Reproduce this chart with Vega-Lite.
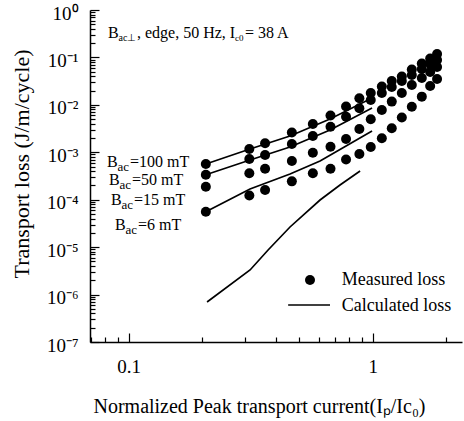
{
  "$schema": "https://vega.github.io/schema/vega-lite/v6.json",
  "width": 372,
  "height": 332,
  "autosize": "none",
  "padding": {"left": 90, "top": 10, "right": 2, "bottom": 79},
  "background": "white",
  "config": {
    "view": {"stroke": null},
    "font": "Liberation Serif",
    "axis": {
      "grid": false,
      "domainColor": "black",
      "domainWidth": 1.5,
      "tickColor": "black",
      "tickWidth": 1.2,
      "labelColor": "black",
      "titleColor": "black",
      "titleFontWeight": "normal",
      "labelFont": "Liberation Serif",
      "titleFont": "Liberation Serif",
      "labelOverlap": false,
      "labelFlush": false
    }
  },
  "datasets": {
    "measured": [
      {"I": 0.207, "loss": 5.66e-4, "B": "100 mT"},
      {"I": 0.312, "loss": 1.17e-3, "B": "100 mT"},
      {"I": 0.362, "loss": 1.55e-3, "B": "100 mT"},
      {"I": 0.466, "loss": 2.61e-3, "B": "100 mT"},
      {"I": 0.568, "loss": 3.95e-3, "B": "100 mT"},
      {"I": 0.671, "loss": 5.97e-3, "B": "100 mT"},
      {"I": 0.777, "loss": 9.23e-3, "B": "100 mT"},
      {"I": 0.881, "loss": 1.375e-2, "B": "100 mT"},
      {"I": 0.981, "loss": 1.78e-2, "B": "100 mT"},
      {"I": 1.089, "loss": 2.44e-2, "B": "100 mT"},
      {"I": 1.196, "loss": 3.18e-2, "B": "100 mT"},
      {"I": 1.315, "loss": 3.96e-2, "B": "100 mT"},
      {"I": 1.445, "loss": 5.57e-2, "B": "100 mT"},
      {"I": 1.588, "loss": 7.45e-2, "B": "100 mT"},
      {"I": 1.718, "loss": 9.49e-2, "B": "100 mT"},
      {"I": 1.834, "loss": 0.118, "B": "100 mT"},
      {"I": 0.207, "loss": 3.37e-4, "B": "50 mT"},
      {"I": 0.312, "loss": 7.22e-4, "B": "50 mT"},
      {"I": 0.362, "loss": 8.77e-4, "B": "50 mT"},
      {"I": 0.466, "loss": 1.50e-3, "B": "50 mT"},
      {"I": 0.568, "loss": 2.20e-3, "B": "50 mT"},
      {"I": 0.671, "loss": 3.46e-3, "B": "50 mT"},
      {"I": 0.777, "loss": 5.63e-3, "B": "50 mT"},
      {"I": 0.881, "loss": 8.46e-3, "B": "50 mT"},
      {"I": 0.981, "loss": 1.27e-2, "B": "50 mT"},
      {"I": 1.089, "loss": 1.78e-2, "B": "50 mT"},
      {"I": 1.196, "loss": 2.38e-2, "B": "50 mT"},
      {"I": 1.315, "loss": 3.18e-2, "B": "50 mT"},
      {"I": 1.445, "loss": 4.26e-2, "B": "50 mT"},
      {"I": 1.588, "loss": 5.70e-2, "B": "50 mT"},
      {"I": 1.718, "loss": 7.27e-2, "B": "50 mT"},
      {"I": 1.834, "loss": 8.83e-2, "B": "50 mT"},
      {"I": 0.207, "loss": 1.88e-4, "B": "15 mT"},
      {"I": 0.312, "loss": 3.61e-4, "B": "15 mT"},
      {"I": 0.362, "loss": 4.51e-4, "B": "15 mT"},
      {"I": 0.466, "loss": 6.55e-4, "B": "15 mT"},
      {"I": 0.568, "loss": 9.80e-4, "B": "15 mT"},
      {"I": 0.671, "loss": 1.31e-3, "B": "15 mT"},
      {"I": 0.777, "loss": 1.91e-3, "B": "15 mT"},
      {"I": 0.881, "loss": 3.10e-3, "B": "15 mT"},
      {"I": 0.981, "loss": 4.96e-3, "B": "15 mT"},
      {"I": 1.089, "loss": 7.79e-3, "B": "15 mT"},
      {"I": 1.196, "loss": 1.17e-2, "B": "15 mT"},
      {"I": 1.315, "loss": 1.78e-2, "B": "15 mT"},
      {"I": 1.445, "loss": 2.62e-2, "B": "15 mT"},
      {"I": 1.588, "loss": 3.68e-2, "B": "15 mT"},
      {"I": 1.718, "loss": 4.93e-2, "B": "15 mT"},
      {"I": 1.834, "loss": 6.28e-2, "B": "15 mT"},
      {"I": 0.207, "loss": 5.59e-5, "B": "6 mT"},
      {"I": 0.312, "loss": 1.23e-4, "B": "6 mT"},
      {"I": 0.362, "loss": 1.60e-4, "B": "6 mT"},
      {"I": 0.466, "loss": 2.44e-4, "B": "6 mT"},
      {"I": 0.568, "loss": 3.61e-4, "B": "6 mT"},
      {"I": 0.671, "loss": 4.51e-4, "B": "6 mT"},
      {"I": 0.777, "loss": 7.05e-4, "B": "6 mT"},
      {"I": 0.881, "loss": 9.20e-4, "B": "6 mT"},
      {"I": 0.981, "loss": 1.29e-3, "B": "6 mT"},
      {"I": 1.089, "loss": 1.97e-3, "B": "6 mT"},
      {"I": 1.196, "loss": 3.21e-3, "B": "6 mT"},
      {"I": 1.315, "loss": 5.42e-3, "B": "6 mT"},
      {"I": 1.445, "loss": 9.15e-3, "B": "6 mT"},
      {"I": 1.588, "loss": 1.49e-2, "B": "6 mT"},
      {"I": 1.718, "loss": 2.50e-2, "B": "6 mT"},
      {"I": 1.834, "loss": 3.51e-2, "B": "6 mT"}
    ],
    "calc": [
      {"I": 0.207, "loss": 5.66e-4, "curve": "100 mT"},
      {"I": 0.314, "loss": 1.17e-3, "curve": "100 mT"},
      {"I": 0.458, "loss": 2.20e-3, "curve": "100 mT"},
      {"I": 0.668, "loss": 5.04e-3, "curve": "100 mT"},
      {"I": 0.993, "loss": 1.39e-2, "curve": "100 mT"},
      {"I": 0.207, "loss": 3.37e-4, "curve": "50 mT"},
      {"I": 0.314, "loss": 6.88e-4, "curve": "50 mT"},
      {"I": 0.458, "loss": 1.29e-3, "curve": "50 mT"},
      {"I": 0.668, "loss": 2.95e-3, "curve": "50 mT"},
      {"I": 0.993, "loss": 8.59e-3, "curve": "50 mT"},
      {"I": 0.207, "loss": 5.59e-5, "curve": "6 mT"},
      {"I": 0.314, "loss": 1.68e-4, "curve": "6 mT"},
      {"I": 0.458, "loss": 3.48e-4, "curve": "6 mT"},
      {"I": 0.608, "loss": 6.55e-4, "curve": "6 mT"},
      {"I": 0.777, "loss": 1.36e-3, "curve": "6 mT"},
      {"I": 0.993, "loss": 2.81e-3, "curve": "6 mT"},
      {"I": 0.2094, "loss": 6.98e-7, "curve": "low"},
      {"I": 0.3142, "loss": 3.30e-6, "curve": "low"},
      {"I": 0.3724, "loss": 8.71e-6, "curve": "low"},
      {"I": 0.458, "loss": 2.66e-5, "curve": "low"},
      {"I": 0.608, "loss": 9.86e-5, "curve": "low"},
      {"I": 0.734, "loss": 2.04e-4, "curve": "low"},
      {"I": 0.887, "loss": 4.03e-4, "curve": "low"}
    ],
    "ann": [
      {"I": 0.0822, "loss": 0.323, "part": "B", "t": "B"},
      {"I": 0.0822, "loss": 0.323, "part": "topsub1", "t": "ac⊥"},
      {"I": 0.0822, "loss": 0.323, "part": "toprest1", "t": ", edge, 50 Hz, I"},
      {"I": 0.0822, "loss": 0.323, "part": "topsub2", "t": "c0"},
      {"I": 0.0822, "loss": 0.323, "part": "toprest2", "t": "= 38 A"},
      {"I": 0.0815, "loss": 6.33e-4, "part": "B", "t": "B"},
      {"I": 0.0815, "loss": 6.33e-4, "part": "sub", "t": "ac"},
      {"I": 0.0815, "loss": 6.33e-4, "part": "rest", "t": "=100  mT"},
      {"I": 0.0831, "loss": 2.61e-4, "part": "B", "t": "B"},
      {"I": 0.0831, "loss": 2.61e-4, "part": "sub", "t": "ac"},
      {"I": 0.0831, "loss": 2.61e-4, "part": "rest", "t": "=50  mT"},
      {"I": 0.0846, "loss": 9.86e-5, "part": "B", "t": "B"},
      {"I": 0.0846, "loss": 9.86e-5, "part": "sub", "t": "ac"},
      {"I": 0.0846, "loss": 9.86e-5, "part": "rest", "t": "=15  mT"},
      {"I": 0.0879, "loss": 2.93e-5, "part": "B", "t": "B"},
      {"I": 0.0879, "loss": 2.93e-5, "part": "sub", "t": "ac"},
      {"I": 0.0879, "loss": 2.93e-5, "part": "rest", "t": "=6  mT"}
    ],
    "legpt": [{"I": 0.553, "loss": 2.03e-6}],
    "legtext": [
      {"I": 0.746, "loss": 2.03e-6, "t": "Measured loss"},
      {"I": 0.746, "loss": 5.8e-7, "t": "Calculated loss"}
    ],
    "legline": [{"I": 0.450, "I2": 0.668, "loss": 6.03e-7}]
  },
  "layer": [
    {
      "data": {"name": "measured"},
      "mark": {"type": "circle", "size": 100, "color": "black", "opacity": 1},
      "encoding": {
        "x": {
          "field": "I", "type": "quantitative",
          "scale": {"type": "log", "domain": [0.0694, 2.32], "nice": false},
          "axis": {
            "title": "Normalized Peak transport current(Iₚ/Ic₀)",
            "values": [0.07, 0.08, 0.09, 0.1, 0.2, 0.3, 0.4, 0.5, 0.6, 0.7, 0.8, 0.9, 1, 2],
            "labelExpr": "datum.value == 0.1 ? '0.1' : (datum.value == 1 ? '1' : '')",
            "tickSize": {"condition": {"test": "datum.value == 0.1 || datum.value == 1", "value": -9}, "value": -5},
            "labelPadding": 24,
            "labelFontSize": 19,
            "titleFontSize": 20,
            "titleX": 169,
            "titleY": 70,
            "titleAlign": "center",
            "titleBaseline": "alphabetic"
          }
        },
        "y": {
          "field": "loss", "type": "quantitative",
          "scale": {"type": "log", "domain": [1e-7, 1], "nice": false},
          "axis": {
            "title": "Transport loss (J/m/cycle)",
            "values": [1e-7, 2e-7, 3e-7, 4e-7, 5e-7, 6e-7, 7e-7, 8e-7, 9e-7,
                       1e-6, 2e-6, 3e-6, 4e-6, 5e-6, 6e-6, 7e-6, 8e-6, 9e-6,
                       1e-5, 2e-5, 3e-5, 4e-5, 5e-5, 6e-5, 7e-5, 8e-5, 9e-5,
                       1e-4, 2e-4, 3e-4, 4e-4, 5e-4, 6e-4, 7e-4, 8e-4, 9e-4,
                       1e-3, 2e-3, 3e-3, 4e-3, 5e-3, 6e-3, 7e-3, 8e-3, 9e-3,
                       1e-2, 2e-2, 3e-2, 4e-2, 5e-2, 6e-2, 7e-2, 8e-2, 9e-2,
                       0.1, 0.2, 0.3, 0.4, 0.5, 0.6, 0.7, 0.8, 0.9, 1],
            "labelExpr": "abs(log(datum.value)/LN10 - round(log(datum.value)/LN10)) < 0.001 ? '10' + ['⁰','⁻¹','⁻²','⁻³','⁻⁴','⁻⁵','⁻⁶','⁻⁷'][-round(log(datum.value)/LN10)] : ''",
            "tickSize": {"condition": {"test": "abs(log(datum.value)/LN10 - round(log(datum.value)/LN10)) < 0.001", "value": -9}, "value": -5},
            "labelPadding": 21,
            "labelFontSize": 19,
            "labelOffset": 3,
            "titleFontSize": 22,
            "titleX": -61.5,
            "titleY": 153.5,
            "titleAlign": "center",
            "titleBaseline": "alphabetic"
          }
        }
      }
    },
    {
      "data": {"name": "calc"},
      "mark": {"type": "line", "color": "black", "strokeWidth": 1.7},
      "encoding": {
        "x": {"field": "I", "type": "quantitative"},
        "y": {"field": "loss", "type": "quantitative"},
        "detail": {"field": "curve"}
      }
    },
    {
      "mark": {"type": "rule", "color": "black", "strokeWidth": 1.5},
      "encoding": {"y": {"datum": 1}}
    },
    {
      "data": {"name": "ann"},
      "transform": [{"filter": "datum.part == 'B'"}],
      "mark": {"type": "text", "align": "left", "baseline": "middle", "fontSize": 16, "font": "Liberation Serif", "color": "black"},
      "encoding": {
        "x": {"field": "I", "type": "quantitative"},
        "y": {"field": "loss", "type": "quantitative"},
        "text": {"field": "t"}
      }
    },
    {
      "data": {"name": "ann"},
      "transform": [{"filter": "datum.part == 'sub'"}],
      "mark": {"type": "text", "align": "left", "baseline": "middle", "fontSize": 13, "dx": 10.5, "dy": 5, "font": "Liberation Serif", "color": "black"},
      "encoding": {
        "x": {"field": "I", "type": "quantitative"},
        "y": {"field": "loss", "type": "quantitative"},
        "text": {"field": "t"}
      }
    },
    {
      "data": {"name": "ann"},
      "transform": [{"filter": "datum.part == 'rest'"}],
      "mark": {"type": "text", "align": "left", "baseline": "middle", "fontSize": 16, "dx": 23, "font": "Liberation Serif", "color": "black"},
      "encoding": {
        "x": {"field": "I", "type": "quantitative"},
        "y": {"field": "loss", "type": "quantitative"},
        "text": {"field": "t"}
      }
    },
    {
      "data": {"name": "ann"},
      "transform": [{"filter": "datum.part == 'topsub1'"}],
      "mark": {"type": "text", "align": "left", "baseline": "middle", "fontSize": 10, "dx": 10.5, "dy": 5, "font": "Liberation Serif", "color": "black"},
      "encoding": {
        "x": {"field": "I", "type": "quantitative"},
        "y": {"field": "loss", "type": "quantitative"},
        "text": {"field": "t"}
      }
    },
    {
      "data": {"name": "ann"},
      "transform": [{"filter": "datum.part == 'toprest1'"}],
      "mark": {"type": "text", "align": "left", "baseline": "middle", "fontSize": 16, "dx": 29, "font": "Liberation Serif", "color": "black"},
      "encoding": {
        "x": {"field": "I", "type": "quantitative"},
        "y": {"field": "loss", "type": "quantitative"},
        "text": {"field": "t"}
      }
    },
    {
      "data": {"name": "ann"},
      "transform": [{"filter": "datum.part == 'topsub2'"}],
      "mark": {"type": "text", "align": "left", "baseline": "middle", "fontSize": 9, "dx": 127, "dy": 5, "font": "Liberation Serif", "color": "black"},
      "encoding": {
        "x": {"field": "I", "type": "quantitative"},
        "y": {"field": "loss", "type": "quantitative"},
        "text": {"field": "t"}
      }
    },
    {
      "data": {"name": "ann"},
      "transform": [{"filter": "datum.part == 'toprest2'"}],
      "mark": {"type": "text", "align": "left", "baseline": "middle", "fontSize": 16, "dx": 137, "font": "Liberation Serif", "color": "black"},
      "encoding": {
        "x": {"field": "I", "type": "quantitative"},
        "y": {"field": "loss", "type": "quantitative"},
        "text": {"field": "t"}
      }
    },
    {
      "data": {"name": "legpt"},
      "mark": {"type": "circle", "size": 100, "color": "black", "opacity": 1},
      "encoding": {
        "x": {"field": "I", "type": "quantitative"},
        "y": {"field": "loss", "type": "quantitative"}
      }
    },
    {
      "data": {"name": "legline"},
      "mark": {"type": "rule", "color": "black", "strokeWidth": 1.5},
      "encoding": {
        "x": {"field": "I", "type": "quantitative"},
        "x2": {"field": "I2"},
        "y": {"field": "loss", "type": "quantitative"}
      }
    },
    {
      "data": {"name": "legtext"},
      "mark": {"type": "text", "align": "left", "baseline": "middle", "fontSize": 18, "font": "Liberation Serif", "color": "black"},
      "encoding": {
        "x": {"field": "I", "type": "quantitative"},
        "y": {"field": "loss", "type": "quantitative"},
        "text": {"field": "t"}
      }
    }
  ]
}
